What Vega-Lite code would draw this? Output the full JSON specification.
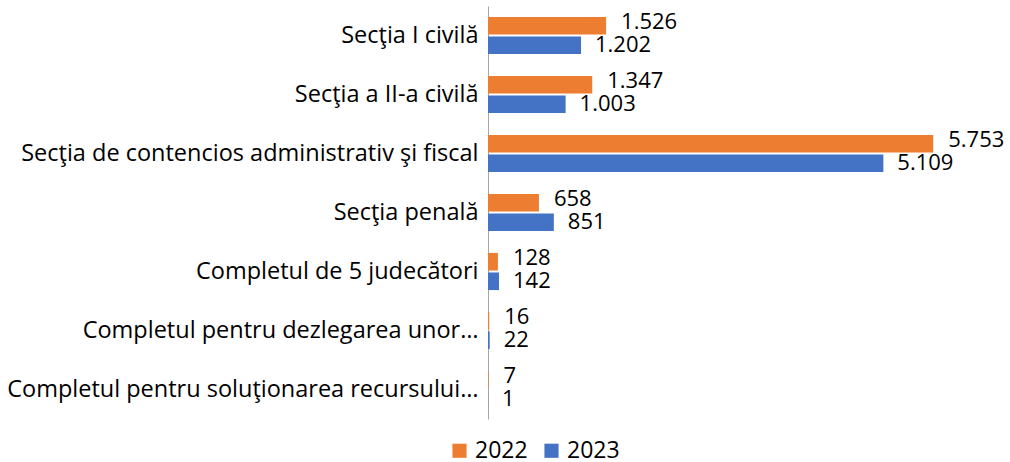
{
  "$schema": "https://vega.github.io/schema/vega-lite/v6.json",
  "width": 503,
  "height": 413,
  "autosize": {"type": "none"},
  "padding": {"left": 488, "top": 6, "right": 19, "bottom": 43},
  "config": {
    "locale": {"number": {"decimal": ",", "thousands": ".", "grouping": [3], "currency": ["", ""]}},
    "view": {"stroke": null},
    "font": "Open Sans"
  },
  "data": {
    "values": [
      {"sectie": "Secţia I civilă", "an": "2022", "valoare": 1526},
      {"sectie": "Secţia I civilă", "an": "2023", "valoare": 1202},
      {"sectie": "Secţia a II-a civilă", "an": "2022", "valoare": 1347},
      {"sectie": "Secţia a II-a civilă", "an": "2023", "valoare": 1003},
      {"sectie": "Secţia de contencios administrativ şi fiscal", "an": "2022", "valoare": 5753},
      {"sectie": "Secţia de contencios administrativ şi fiscal", "an": "2023", "valoare": 5109},
      {"sectie": "Secţia penală", "an": "2022", "valoare": 658},
      {"sectie": "Secţia penală", "an": "2023", "valoare": 851},
      {"sectie": "Completul de 5 judecători", "an": "2022", "valoare": 128},
      {"sectie": "Completul de 5 judecători", "an": "2023", "valoare": 142},
      {"sectie": "Completul pentru dezlegarea unor…", "an": "2022", "valoare": 16},
      {"sectie": "Completul pentru dezlegarea unor…", "an": "2023", "valoare": 22},
      {"sectie": "Completul pentru soluţionarea recursului…", "an": "2022", "valoare": 7},
      {"sectie": "Completul pentru soluţionarea recursului…", "an": "2023", "valoare": 1}
    ]
  },
  "encoding": {
    "y": {
      "field": "sectie", "type": "nominal", "sort": null,
      "scale": {"paddingInner": 0.37, "paddingOuter": 0.185},
      "axis": {"title": null, "ticks": false, "domainColor": "#a6a6a6", "domainWidth": 1, "labelFontSize": 23.5, "labelColor": "#000000", "labelPadding": 10, "labelLimit": 0}
    },
    "yOffset": {"field": "an", "type": "nominal", "sort": ["2022", "2023"], "scale": {"paddingInner": 0.1}},
    "x": {"field": "valoare", "type": "quantitative", "scale": {"domain": [0, 6500], "nice": false}, "axis": null}
  },
  "layer": [
    {
      "mark": {"type": "bar"},
      "encoding": {
        "color": {
          "field": "an", "type": "nominal",
          "scale": {"domain": ["2022", "2023"], "range": ["#ED7D31", "#4472C4"]},
          "legend": {"title": null, "orient": "none", "direction": "horizontal", "legendX": -40, "legendY": 433, "symbolType": "square", "symbolSize": 200, "symbolStrokeWidth": 0, "labelFontSize": 23, "labelColor": "#000000", "columnPadding": 12, "labelOffset": 4}
        }
      }
    },
    {
      "transform": [{"filter": "datum.an === '2022'"}],
      "mark": {"type": "text", "align": "left", "baseline": "middle", "dx": 15, "dy": -4, "fontSize": 22, "color": "#000000"},
      "encoding": {"text": {"field": "valoare", "type": "quantitative", "format": ",d"}}
    },
    {
      "transform": [{"filter": "datum.an === '2023'"}],
      "mark": {"type": "text", "align": "left", "baseline": "middle", "dx": 14, "dy": 0, "fontSize": 22, "color": "#000000"},
      "encoding": {"text": {"field": "valoare", "type": "quantitative", "format": ",d"}}
    }
  ]
}
